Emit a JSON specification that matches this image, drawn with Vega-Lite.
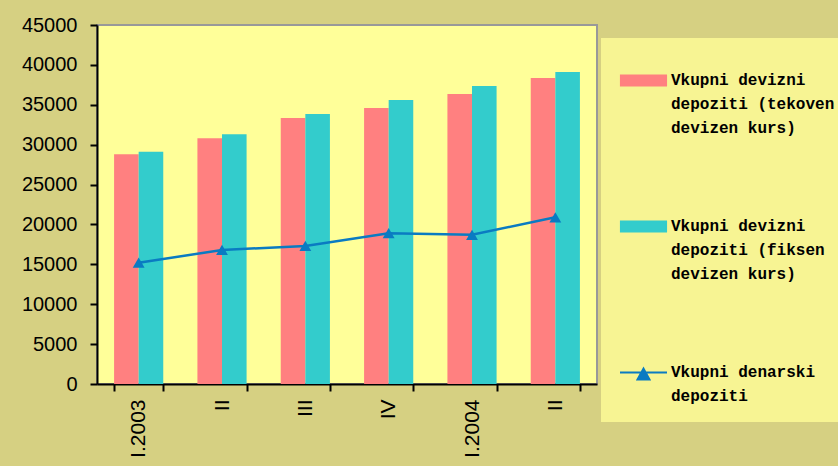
{
  "$schema": "https://vega.github.io/schema/vega-lite/v6.json",
  "width": 500,
  "height": 359,
  "autosize": {"type": "none"},
  "padding": {"left": 97, "top": 25, "right": 241, "bottom": 82},
  "background": "#D6D082",
  "config": {
    "view": {"fill": "#FFFF99", "stroke": "#999999", "strokeWidth": 2}
  },
  "datasets": {
    "bars": [
      {"quarter": "I.2003", "series": "Vkupni devizni depoziti (tekoven devizen kurs)", "value": 28800},
      {"quarter": "I.2003", "series": "Vkupni devizni depoziti (fiksen devizen kurs)", "value": 29100},
      {"quarter": "II.2003", "series": "Vkupni devizni depoziti (tekoven devizen kurs)", "value": 30800},
      {"quarter": "II.2003", "series": "Vkupni devizni depoziti (fiksen devizen kurs)", "value": 31300},
      {"quarter": "III.2003", "series": "Vkupni devizni depoziti (tekoven devizen kurs)", "value": 33340},
      {"quarter": "III.2003", "series": "Vkupni devizni depoziti (fiksen devizen kurs)", "value": 33840},
      {"quarter": "IV.2003", "series": "Vkupni devizni depoziti (tekoven devizen kurs)", "value": 34600},
      {"quarter": "IV.2003", "series": "Vkupni devizni depoziti (fiksen devizen kurs)", "value": 35600},
      {"quarter": "I.2004", "series": "Vkupni devizni depoziti (tekoven devizen kurs)", "value": 36350},
      {"quarter": "I.2004", "series": "Vkupni devizni depoziti (fiksen devizen kurs)", "value": 37350},
      {"quarter": "II.2004", "series": "Vkupni devizni depoziti (tekoven devizen kurs)", "value": 38360},
      {"quarter": "II.2004", "series": "Vkupni devizni depoziti (fiksen devizen kurs)", "value": 39110}
    ],
    "line": [
      {"quarter": "I.2003", "series": "Vkupni denarski depoziti", "value": 15200},
      {"quarter": "II.2003", "series": "Vkupni denarski depoziti", "value": 16800},
      {"quarter": "III.2003", "series": "Vkupni denarski depoziti", "value": 17300},
      {"quarter": "IV.2003", "series": "Vkupni denarski depoziti", "value": 18900},
      {"quarter": "I.2004", "series": "Vkupni denarski depoziti", "value": 18700},
      {"quarter": "II.2004", "series": "Vkupni denarski depoziti", "value": 20900}
    ]
  },
  "encoding": {
    "x": {
      "field": "quarter",
      "type": "nominal",
      "scale": {
        "domain": ["I.2003", "II.2003", "III.2003", "IV.2003", "I.2004", "II.2004"],
        "paddingInner": 0.41,
        "paddingOuter": 0.205
      },
      "axis": {
        "title": null,
        "labelAngle": -90,
        "labelExpr": "datum.label == 'I.2003' || datum.label == 'I.2004' ? datum.label : split(datum.label, '.')[0]",
        "labelFont": "Liberation Sans",
        "labelFontSize": 21,
        "labelColor": "#000000",
        "labelPadding": 8,
        "tickBand": "extent",
        "tickSize": 7,
        "tickColor": "#000000",
        "tickWidth": 2,
        "domainColor": "#000000",
        "domainWidth": 2
      }
    },
    "y": {
      "field": "value",
      "type": "quantitative",
      "scale": {"domain": [0, 45000], "nice": false},
      "axis": {
        "title": null,
        "grid": false,
        "values": [0, 5000, 10000, 15000, 20000, 25000, 30000, 35000, 40000, 45000],
        "format": "d",
        "labelFont": "Liberation Sans",
        "labelFontSize": 20,
        "labelColor": "#000000",
        "labelPadding": 13,
        "tickSize": 7,
        "tickColor": "#000000",
        "tickWidth": 2,
        "domainColor": "#000000",
        "domainWidth": 2
      }
    },
    "color": {
      "field": "series",
      "type": "nominal",
      "scale": {
        "domain": ["Vkupni devizni depoziti (tekoven devizen kurs)", "Vkupni devizni depoziti (fiksen devizen kurs)", "Vkupni denarski depoziti"],
        "range": ["#FF8080", "#33CCCC", "#0A7BC2"]
      },
      "legend": {
        "title": null,
        "orient": "none",
        "legendX": 504,
        "legendY": 13,
        "direction": "vertical",
        "padding": 18,
        "fillColor": "#F7F493",
        "labelFont": "Liberation Mono",
        "labelFontWeight": "bold",
        "labelFontSize": 16,
        "labelColor": "#000000",
        "labelLimit": 400,
        "labelOffset": 3,
        "rowPadding": 66,
        "symbolSize": 2209,
        "symbolType": "square",
        "labelExpr": "datum.label == 'Vkupni denarski depoziti' ? ['Vkupni denarski', 'depoziti'] : datum.label == 'Vkupni devizni depoziti (tekoven devizen kurs)' ? ['Vkupni devizni', 'depoziti (tekoven', 'devizen kurs)'] : ['Vkupni devizni', 'depoziti (fiksen', 'devizen kurs)']",
        "encode": {
          "symbols": {
            "update": {
              "shape": {"signal": "datum.value == 'Vkupni denarski depoziti' ? 'M-1,0H1M-0.255,0.3L0,-0.17L0.255,0.3Z' : 'M-0.96,-0.215H0.96V0.215H-0.96Z'"},
              "fill": {"scale": "color", "field": "value"},
              "stroke": {"scale": "color", "field": "value"},
              "strokeWidth": {"value": 2},
              "opacity": {"value": 1}
            }
          },
          "labels": {
            "update": {
              "lineHeight": {"value": 24},
              "baseline": {"value": "top"},
              "dy": {"value": -9}
            }
          }
        }
      }
    }
  },
  "layer": [
    {
      "data": {"name": "bars"},
      "mark": {"type": "bar"},
      "encoding": {
        "xOffset": {
          "field": "series",
          "type": "nominal",
          "scale": {"domain": ["Vkupni devizni depoziti (tekoven devizen kurs)", "Vkupni devizni depoziti (fiksen devizen kurs)"]}
        }
      }
    },
    {
      "data": {"name": "line"},
      "mark": {
        "type": "line",
        "strokeWidth": 2.5,
        "point": {"shape": "triangle-up", "size": 140, "filled": true, "opacity": 1}
      }
    }
  ]
}
